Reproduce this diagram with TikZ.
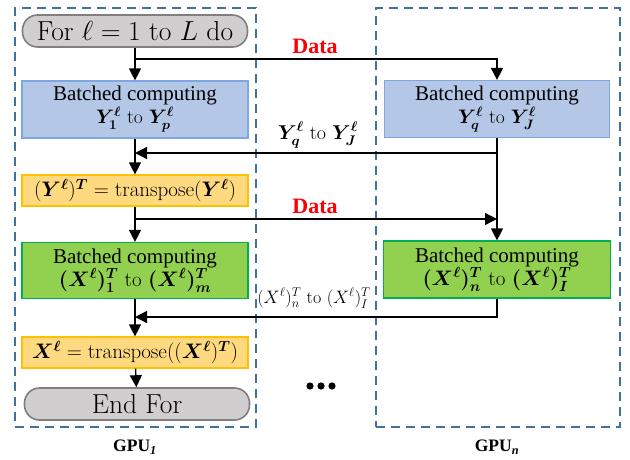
\RequirePackage{fix-cm}
\documentclass[tikz,border=0pt]{standalone}
\usepackage{fontspec}
\usepackage{amsmath,bm}
\newfontfamily\tnr{Liberation Serif}
\usetikzlibrary{arrows.meta}
\definecolor{loopfill}{HTML}{D0CECE}
\definecolor{loopedge}{HTML}{7F7F7F}
\definecolor{bluefill}{HTML}{B4C7E7}
\definecolor{blueedge}{HTML}{7EA6E0}
\definecolor{yelfill}{HTML}{FFD980}
\definecolor{yeledge}{HTML}{FFC000}
\definecolor{grnfill}{HTML}{92D050}
\definecolor{grnedge}{HTML}{00B050}
\definecolor{gpuedge}{HTML}{41719C}
\definecolor{datared}{HTML}{FF0000}
\newcommand{\mathline}[1]{{\fontsize{19.5}{22}\selectfont #1}}
\begin{document}
\begin{tikzpicture}[x=1pt,y=-1pt,
  flow/.style={line width=1.2pt, inner sep=0pt, align=center,
    font=\fontsize{21}{24}\selectfont},
  loopbox/.style={flow, draw=loopedge, fill=loopfill, line width=1.6pt,
    rounded corners=15pt, minimum width=225pt, minimum height=32pt,
    font=\fontsize{27.5}{29}\selectfont},
  bluebox/.style={flow, draw=blueedge, fill=bluefill, minimum width=226pt, minimum height=57pt},
  yelbox/.style={flow, draw=yeledge, fill=yelfill, minimum width=226pt, minimum height=31pt},
  grnbox/.style={flow, draw=grnedge, fill=grnfill, minimum width=226pt, minimum height=56pt},
  gpubox/.style={draw=gpuedge, line width=2pt, dash pattern=on 9pt off 6pt, inner sep=0pt},
  arr/.style={line width=1.3pt, -{Triangle[length=12pt,width=12pt]}},
  datalbl/.style={text=datared, font=\tnr\bfseries\fontsize{22}{24}\selectfont},
  gpulbl/.style={font=\tnr\bfseries\fontsize{17.5}{20}\selectfont},
]
\useasboundingbox (0,0) rectangle (630,459);

% GPU frames
\node[gpubox, minimum width=241pt, minimum height=419pt] (gpu1) at (135.5,217.5) {};
\node[gpubox, minimum width=244pt, minimum height=419pt] (gpun) at (497.5,217.5) {};
\node[gpulbl] (gpu1lbl) at (135,447) {GPU\textsubscript{\itshape 1}};
\node[gpulbl] (gpunlbl) at (497,447) {GPU\textsubscript{\itshape n}};

% left column (GPU 1)
\node[loopbox] (for) at (135,31) {For $\ell = 1$ to $L$ do};
\node[bluebox] (b1) at (135,109.5) {{\tnr Batched computing}\\[-1pt]
  \mathline{{\boldmath$Y_1^{\ell}$} to {\boldmath$Y_p^{\ell}$}}};
\node[yelbox] (y1) at (135,190.5)
  {$(\bm{Y}^{\bm\ell})^{\bm T} = \mathrm{transpose}(\bm{Y}^{\bm\ell})$};
\node[grnbox] (g1) at (135,270.5) {{\tnr Batched computing}\\[-1pt]
  {\boldmath$(X^{\ell})_1^{T}$} to {\boldmath$(X^{\ell})_m^{T}$}};
\node[yelbox] (y2) at (135,352.5)
  {$\bm{X}^{\bm\ell} = \mathrm{transpose}((\bm{X}^{\bm\ell})^{\bm T})$};
\node[loopbox] (end) at (137,404) {End For};

% right column (GPU n)
\node[bluebox, minimum width=225pt] (b2) at (497,109) {{\tnr Batched computing}\\[-1pt]
  \mathline{{\boldmath$Y_q^{\ell}$} to {\boldmath$Y_J^{\ell}$}}};
\node[grnbox, minimum width=227pt, minimum height=57pt] (g2) at (497,269.5) {{\tnr Batched computing}\\[-1pt]
  {\boldmath$(X^{\ell})_n^{T}$} to {\boldmath$(X^{\ell})_I^{T}$}};

% junctions
\coordinate (d1) at (135,59);
\coordinate (ya) at (497,153);
\coordinate (yb) at (135,153);
\coordinate (d2a) at (135,219);
\coordinate (d2b) at (497,219);
\coordinate (xb) at (135,317);

% left column flow
\draw[arr] (for) -- (b1);
\draw[arr] (b1) -- (y1);
\draw[arr] (y1) -- (g1);
\draw[arr] (g1) -- (y2);
\draw[arr] (y2) -- (end);

% data exchange between GPUs
\draw[arr, line width=1.8pt] (d1) -| (b2);
\draw[arr] (b2) -- (g2);
\draw[arr] (ya) -- (yb);
\draw[arr] (d2a) -- (d2b);
\draw[arr] (g2.south) |- (xb);

% labels
\node[datalbl] (data1) at (315,46) {Data};
\node[datalbl] (data2) at (315,206) {Data};
\node[font=\fontsize{20}{22}\selectfont] (ylbl) at (318,135)
  {{\boldmath$Y_q^{\ell}$} to {\boldmath$Y_J^{\ell}$}};
\node[font=\fontsize{18}{20}\selectfont, inner sep=1pt] (xlbl) at (314,298)
  {$(X^{\ell})_n^{T}$ to $(X^{\ell})_I^{T}$};

% further GPUs
\foreach \dx in {310,321,332} \fill (\dx,386) circle (3.6pt);
\end{tikzpicture}
\end{document}
